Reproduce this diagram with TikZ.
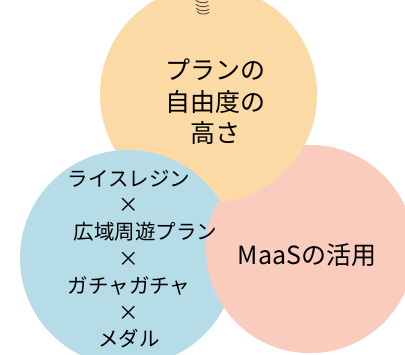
\documentclass[tikz,border=0pt]{standalone}
\usepackage{fontspec}
\setmainfont{Noto Sans CJK JP}
\definecolor{corange}{RGB}{252,218,165}
\definecolor{cpink}{RGB}{249,204,190}
\definecolor{cblue}{RGB}{182,221,231}
\definecolor{coil}{RGB}{85,75,62}
\begin{document}
\begin{tikzpicture}[x=1pt,y=-1pt,
  bigtext/.style={font=\fontsize{25}{31.5}\selectfont,align=center,inner sep=0pt,text=black},
  smalltext/.style={font=\fontsize{20.5}{26.8}\selectfont,align=center,inner sep=0pt,text=black},
  coilline/.style={draw=coil,line width=0.9pt,line cap=round}]
\useasboundingbox (0,0) rectangle (405,355);
\begin{scope}
\clip (0,0) rectangle (405,355);
% pink first, orange over pink, blue over orange
\fill[cpink] (310,249) circle[radius=104];
\fill[corange] (208.5,94.5) circle[radius=108.5];
\fill[cblue] (128,258) circle[radius=108];
% pink over blue (outside orange)
\begin{scope}[even odd rule]
\clip (-10,-10) rectangle (415,365) (208.5,94.5) circle[radius=108.5];
\fill[cpink] (310,249) circle[radius=104];
\end{scope}
% small coil at top
\draw[coilline] (196,0.5) .. controls (199,3) and (205,3.5) .. (208,1.5);
\draw[coilline] (196,4.5) .. controls (199,7) and (205,7.5) .. (208.5,5.5);
\draw[coilline] (196.5,8.5) .. controls (199,11) and (205,11.5) .. (209,9.5);
\draw[coilline] (197.5,11.5) .. controls (199,14.5) and (205,15) .. (209,12.5);
\end{scope}
\node[bigtext] (freedom) at (215,102) {プランの\\自由度の\\高さ};
\node[smalltext] (combo) at (129,259) {ライスレジン\\×\\\hspace*{33pt}広域周遊プラン\\×\\ガチャガチャ\\×\\メダル};
\node[bigtext] (maas) at (307,255) {MaaSの活用};
\end{tikzpicture}
\end{document}
